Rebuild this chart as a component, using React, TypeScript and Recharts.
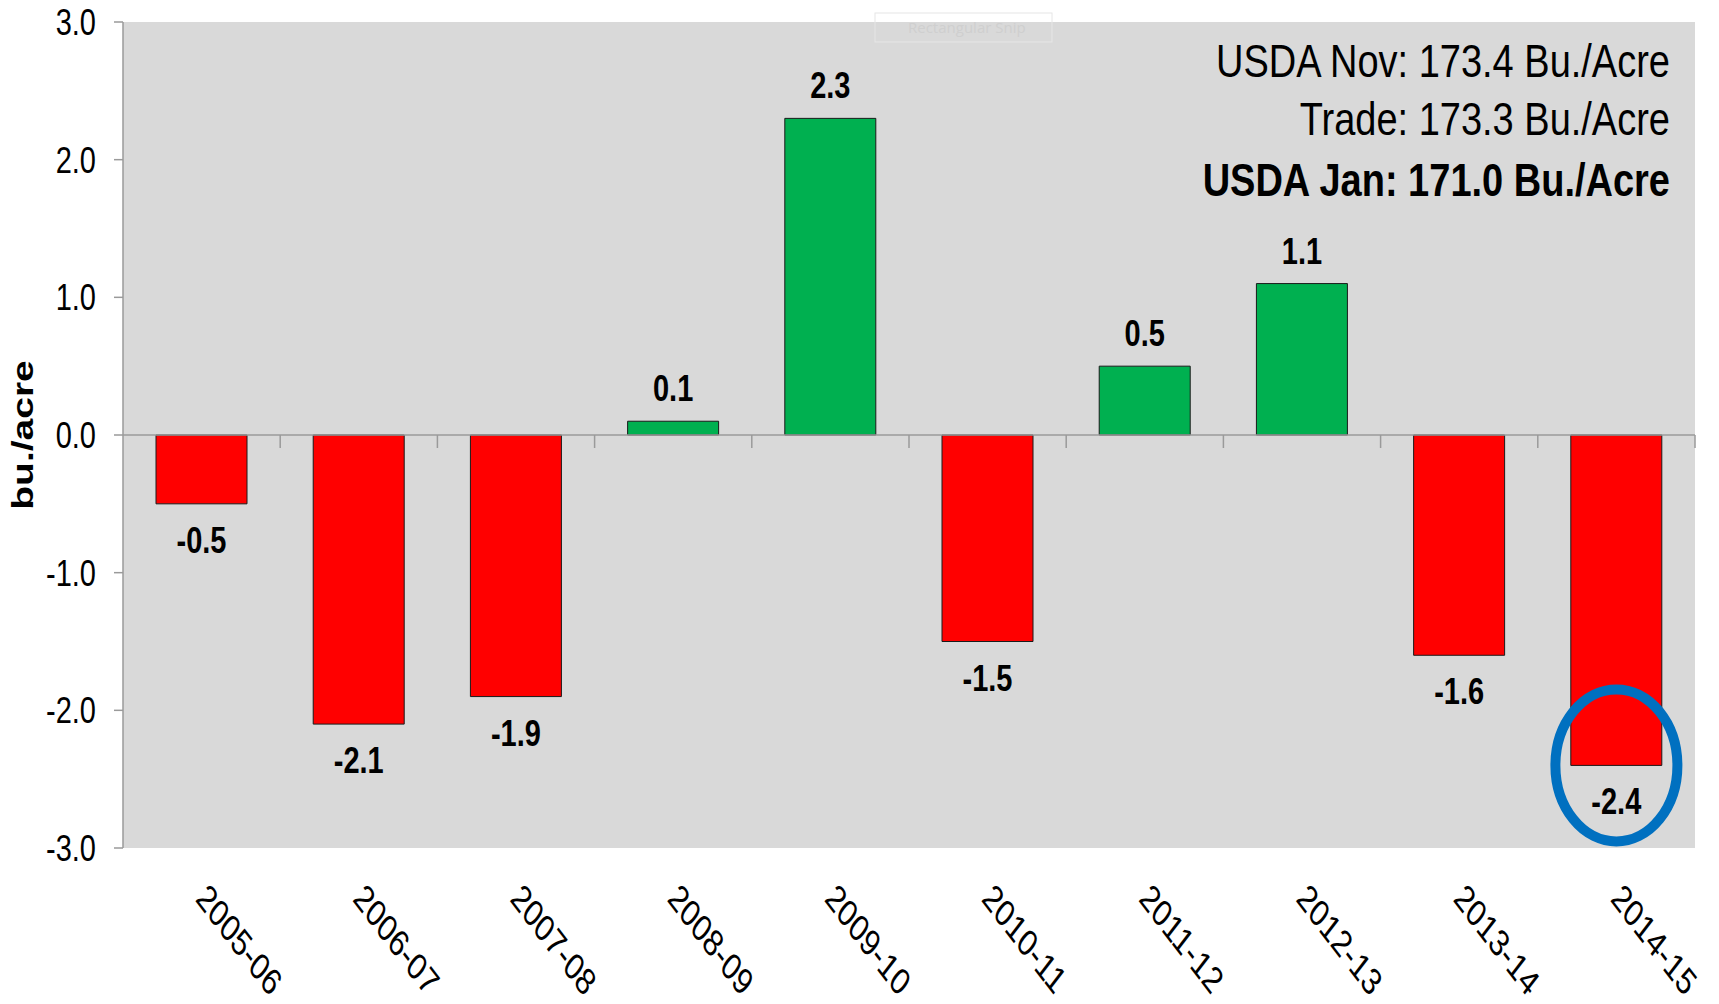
import React from 'react';
import {
  BarChart,
  Bar,
  XAxis,
  YAxis,
  CartesianGrid,
  Cell,
  LabelList,
  ReferenceLine,
  ReferenceDot,
  Label,
} from 'recharts';

const seasons = ['2005-06', '2006-07', '2007-08', '2008-09', '2009-10', '2010-11', '2011-12', '2012-13', '2013-14', '2014-15'];
const yieldChange = [-0.5, -2.1, -1.9, 0.1, 2.3, -1.5, 0.5, 1.1, -1.6, -2.4];
const yTicks = [-3, -2, -1, 0, 1, 2, 3];
const yDomain = [-3, 3];
const yAxisTitle = 'bu./acre';
const annotationLines = ['USDA Nov: 173.4 Bu./Acre', 'Trade: 173.3 Bu./Acre', 'USDA Jan: 171.0 Bu./Acre'];
const annotationBold = [false, false, true];
const highlightSeason = '2014-15';
const highlightValue = -2.4;

const rows = seasons.map((s, i) => ({ season: s, value: yieldChange[i] }));

const FONT = "'Liberation Sans', Arial, Helvetica, sans-serif";
const STRETCH = 1.3;
const AXIS_GREY = '#9a9a9a';
const POS = '#00B050';
const NEG = '#FF0000';

const YTick = (props: any) => {
  const { x, y, payload } = props;
  return (
    <g transform={`translate(${x},${y + 13}) scale(1,${STRETCH})`}>
      <text x={0} y={0} textAnchor="end" fontFamily={FONT} fontSize={29} fill="#000">
        {Number(payload.value).toFixed(1)}
      </text>
    </g>
  );
};

const XTick = (props: any) => {
  const { x, y, payload } = props;
  return (
    <g transform={`translate(${x - 7},${y + 52}) scale(1,${STRETCH}) rotate(45)`}>
      <text x={0} y={0} textAnchor="start" fontFamily={FONT} fontSize={29} fill="#000">
        {payload.value}
      </text>
    </g>
  );
};

const ValueLabel = (props: any) => {
  const { x, y, width, height, value } = props;
  const top = Math.min(y, y + height);
  const bottom = Math.max(y, y + height);
  const cx = x + width / 2;
  const base = value >= 0 ? top - 20 : bottom + 49;
  return (
    <g transform={`translate(${cx},${base}) scale(1,${STRETCH})`}>
      <text x={0} y={0} textAnchor="middle" fontFamily={FONT} fontSize={29} fontWeight="bold" fill="#000">
        {Number(value).toFixed(1)}
      </text>
    </g>
  );
};

const ZeroTicks = (props: any) => {
  const vb = props.viewBox || {};
  const n = seasons.length;
  const step = vb.width / n;
  const marks = [];
  for (let i = 1; i <= n; i++) {
    const xx = vb.x + i * step;
    marks.push(<line key={i} x1={xx} x2={xx} y1={vb.y} y2={vb.y + 13} stroke={AXIS_GREY} strokeWidth={1.5} />);
  }
  return <g>{marks}</g>;
};

const Annotation = (props: any) => {
  const vb = props.viewBox || {};
  const right = vb.x + vb.width - 25;
  const baselines = [55, 113, 174];
  return (
    <g>
      <rect x={vb.x + 752} y={vb.y - 9} width={177} height={29} fill="none" stroke="#e6e6e6" strokeWidth={1} />
      <text x={vb.x + 785} y={vb.y + 11} fontFamily="'Open Sans', sans-serif" fontSize={15} fill="#cfcfcf">
        Rectangular Snip
      </text>
      {annotationLines.map((t, i) => (
        <g key={i} transform={`translate(${right},${vb.y + baselines[i]}) scale(1,1.24)`}>
          <text
            x={0}
            y={0}
            textAnchor="end"
            fontFamily={FONT}
            fontSize={38}
            fontWeight={annotationBold[i] ? 'bold' : 'normal'}
            fill="#000"
          >
            {t}
          </text>
        </g>
      ))}
    </g>
  );
};

const YTitle = (props: any) => {
  const vb = props.viewBox || {};
  const cy = vb.y + vb.height / 2;
  return (
    <g transform={`translate(${vb.x + 33},${cy}) scale(1,${STRETCH}) rotate(-90)`}>
      <text x={0} y={0} textAnchor="middle" fontFamily={FONT} fontSize={30} fontWeight="bold" fill="#000">
        {yAxisTitle}
      </text>
    </g>
  );
};

const Ring = (props: any) => {
  const { cx, cy } = props;
  return <ellipse cx={cx} cy={cy} rx={61} ry={76} fill="none" stroke="#0070C0" strokeWidth={10} />;
};

export default function App() {
  return (
    <div style={{ position: 'absolute', left: 0, top: 0, width: 1719, height: 1004, background: '#fff' }}>
      <BarChart
        width={1719}
        height={1004}
        data={rows}
        margin={{ top: 22, right: 24, bottom: 0, left: 0 }}
        barCategoryGap="21%"
      >
        <CartesianGrid fill="#D9D9D9" horizontal={false} vertical={false} stroke="none" />
        <XAxis
          dataKey="season"
          height={156}
          axisLine={false}
          tickLine={false}
          tickSize={0}
          tickMargin={0}
          interval={0}
          tick={<XTick />}
        />
        <YAxis
          width={123}
          domain={yDomain}
          ticks={yTicks}
          interval={0}
          tickSize={9}
          tickMargin={18}
          axisLine={{ stroke: AXIS_GREY, strokeWidth: 1.5 }}
          tickLine={{ stroke: AXIS_GREY, strokeWidth: 1.5 }}
          tick={<YTick />}
        >
          <Label content={<YTitle />} />
        </YAxis>
        <ReferenceLine y={3} stroke="none" ifOverflow="visible" label={<Annotation />} />
        <Bar dataKey="value" stroke="#1a1a1a" strokeWidth={1} isAnimationActive={false}>
          {rows.map((r, i) => (
            <Cell key={i} fill={r.value >= 0 ? POS : NEG} />
          ))}
          <LabelList dataKey="value" content={<ValueLabel />} />
        </Bar>
        <ReferenceLine y={0} stroke={AXIS_GREY} strokeWidth={1.5} label={<ZeroTicks />} />
        <ReferenceDot
          x={highlightSeason}
          y={highlightValue}
          ifOverflow="visible"
          shape={<Ring />}
          isFront
        />
      </BarChart>
    </div>
  );
}
